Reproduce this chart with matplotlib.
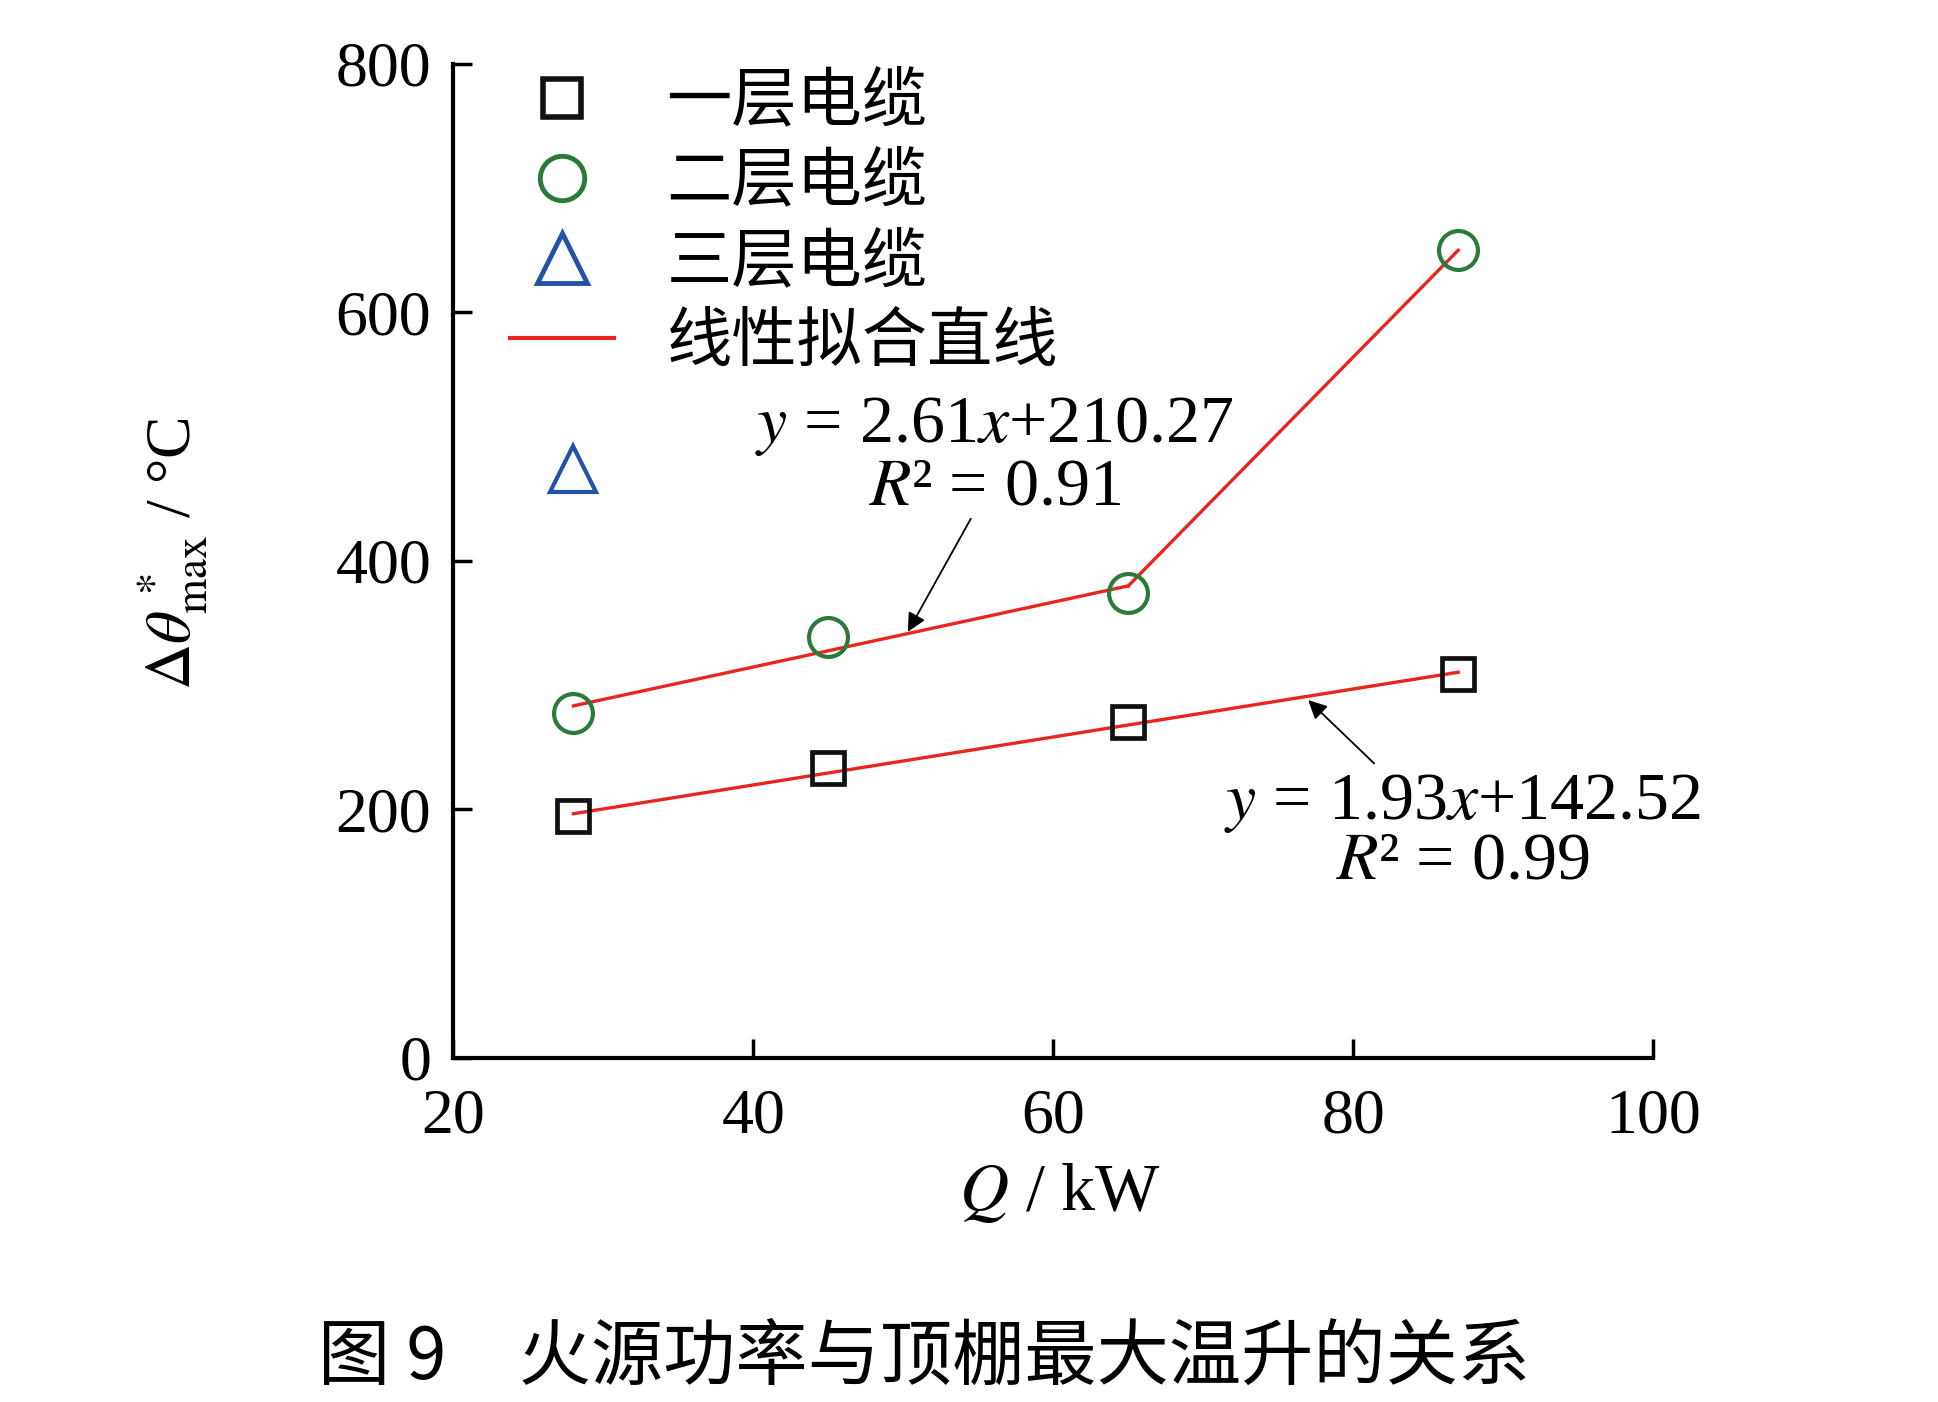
import matplotlib
matplotlib.use("Agg")
import matplotlib.pyplot as plt
from matplotlib.lines import Line2D
import numpy as np

# ---- data ----
Q = [28, 45, 65, 87]                      # fire power, kW
one_layer = [195, 233, 270, 309]          # 一层电缆
two_layer = [278, 339, 374, 650]          # 二层电缆
three_Q = [28]
three_layer = [474]                       # 三层电缆 (single point)
fit_one = (1.93, 142.52)                  # slope, intercept
fit_two = (2.61, 210.27)
fit_two_end = 65                          # fit segment ends here, then joins last point

xticks = [20, 40, 60, 80, 100]
yticks = [0, 200, 400, 600, 800]
legend_labels = ["一层电缆", "二层电缆", "三层电缆", "线性拟合直线"]
caption = "图 9　火源功率与顶棚最大温升的关系"

plt.rcParams["font.family"] = ["Liberation Serif", "DejaVu Serif"]
plt.rcParams["mathtext.fontset"] = "stix"

C_SQ = "#111111"
C_CI = "#2a7a3a"
C_TR = "#2253a8"
C_RED = "#e8261f"
CJK = ["Noto Sans CJK SC", "DejaVu Sans"]
FS = 46
FA = 49

fig = plt.figure(figsize=(19.38, 14.02), dpi=100)
ax = fig.add_axes([0.234, 0.2454, 0.619, 0.709])

# fit lines
q1 = np.array([Q[0], Q[-1]], dtype=float)
ax.plot(q1, fit_one[0] * q1 + fit_one[1], color=C_RED, lw=2.4, zorder=2)
q2 = np.array([Q[0], fit_two_end], dtype=float)
y2 = fit_two[0] * q2 + fit_two[1]
ax.plot(q2, y2, color=C_RED, lw=2.4, zorder=2)
ax.plot([q2[-1], Q[-1]], [y2[-1], two_layer[-1]], color=C_RED, lw=2.4, zorder=2)

# markers
ax.plot(Q, one_layer, ls="none", marker="s", ms=23, mfc="none", mec=C_SQ, mew=3.4, zorder=3)
ax.plot(Q, two_layer, ls="none", marker="o", ms=28, mfc="none", mec=C_CI, mew=3.0, zorder=3)
ax.plot(three_Q, three_layer, ls="none", marker="^", ms=33, mfc="none", mec=C_TR, mew=3.0, zorder=3)

ax.set_xlim(20, 100)
ax.set_ylim(0, 800)
ax.set_xticks(xticks)
ax.set_yticks(yticks)
for s in ["top", "right"]:
    ax.spines[s].set_visible(False)
for s in ["left", "bottom"]:
    ax.spines[s].set_linewidth(3)
ax.tick_params(direction="in", length=14, width=2.5, labelsize=FS, pad=16)
ax.tick_params(axis="x", pad=22)

# annotations
ax.text(56.1, 508, r"$y$ = 2.61$x$+210.27", fontsize=FA, ha="center", va="center")
ax.text(56.1, 459, r"$R$² = 0.91", fontsize=FA, ha="center", va="center")
ax.annotate("", xy=(50.3, 343), xytext=(54.5, 434),
            arrowprops=dict(arrowstyle="-|>", lw=1.3, color="black", mutation_scale=28,
                            shrinkA=0, shrinkB=0))
ax.text(87.3, 205, r"$y$ = 1.93$x$+142.52", fontsize=FA, ha="center", va="center")
ax.text(87.3, 158, r"$R$² = 0.99", fontsize=FA, ha="center", va="center")
ax.annotate("", xy=(77.0, 288), xytext=(81.4, 237),
            arrowprops=dict(arrowstyle="-|>", lw=1.3, color="black", mutation_scale=28,
                            shrinkA=0, shrinkB=0))

# legend
handles = [
    Line2D([], [], ls="none", marker="s", ms=28, mfc="none", mec=C_SQ, mew=4),
    Line2D([], [], ls="none", marker="o", ms=32, mfc="none", mec=C_CI, mew=3.5),
    Line2D([], [], ls="none", marker="^", ms=36, mfc="none", mec=C_TR, mew=3.5),
    Line2D([], [], color=C_RED, lw=3),
]
ax.legend(handles, legend_labels, loc="upper left", bbox_to_anchor=(0.047, 0.995),
          frameon=False, prop=dict(family=CJK, size=47), handlelength=1.6,
          handletextpad=0.8, labelspacing=0.21, borderpad=0, borderaxespad=0)

# axis labels
fig.text(0.547, 0.149, r"$Q$ / kW", fontsize=FA, ha="center", va="center")
fig.text(0.089, 0.605, r"$\Delta\theta^{\,*}_{\mathrm{max}}$ / °C", fontsize=FS,
         ha="center", va="center", rotation=90)

# caption
fig.text(0.477, 0.031, caption, fontsize=52, ha="center", va="center", family=CJK)

fig.savefig("out.png", dpi=100)
